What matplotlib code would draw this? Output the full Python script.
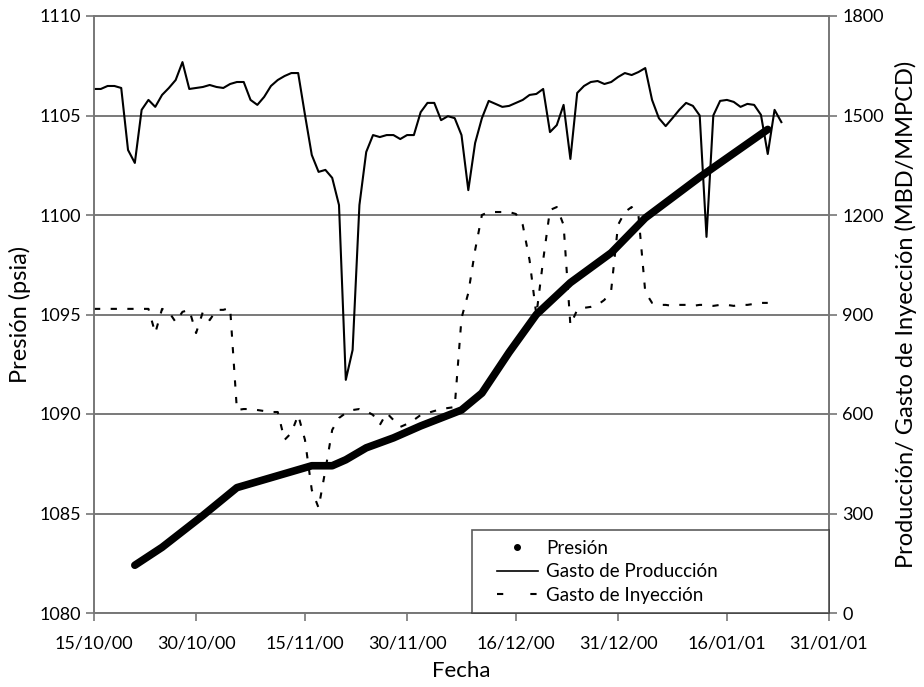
import numpy as np
import pandas as pd
import matplotlib
matplotlib.use('Agg')
import matplotlib.pyplot as plt
import matplotlib.dates as mdates
from matplotlib.lines import Line2D
from matplotlib.legend_handler import HandlerLine2D

plt.rcParams['font.family'] = ['Lato', 'DejaVu Sans']

# fecha de inicio del eje y dias transcurridos
inicio = pd.Timestamp('2000-10-15')

# Gasto de produccion (MBD/MMPCD), un valor por dia
dias_prod = np.arange(0, 102)
gasto_prod = [1580, 1580, 1589, 1589, 1583, 1396, 1357, 1517, 1547, 1526,
              1562, 1583, 1607, 1661, 1580, 1583, 1586, 1592, 1586, 1583,
              1595, 1601, 1601, 1547, 1532, 1556, 1589, 1607, 1619, 1628,
              1628, 1502, 1381, 1330, 1336, 1312, 1230, 703, 793, 1230,
              1390, 1441, 1435, 1441, 1441, 1429, 1441, 1441, 1510, 1538,
              1538, 1486, 1498, 1492, 1441, 1275, 1417, 1492, 1544, 1535,
              1526, 1529, 1538, 1547, 1562, 1565, 1580, 1450, 1471, 1532,
              1369, 1568, 1589, 1601, 1604, 1595, 1601, 1616, 1628, 1622,
              1631, 1643, 1547, 1492, 1468, 1492, 1517, 1538, 1529, 1500,
              1134, 1500, 1544, 1547, 1541, 1526, 1535, 1532, 1502, 1384,
              1517, 1480]

# Gasto de inyeccion (MBD/MMPCD)
dias_iny = np.arange(0, 100)
gasto_iny = [917, 917, 917, 917, 917, 917, 917, 917, 917, 844,
             917, 908, 877, 908, 914, 844, 908, 883, 914, 914,
             920, 612, 615, 615, 612, 609, 606, 606, 522, 543,
             597, 522, 371, 317, 431, 552, 588, 603, 612, 615,
             609, 597, 567, 603, 582, 561, 570, 582, 597, 603,
             609, 615, 618, 621, 889, 965, 1094, 1200, 1209, 1209,
             1209, 1209, 1203, 1170, 1064, 898, 1064, 1215, 1224, 1170,
             868, 914, 920, 923, 929, 944, 974, 1170, 1209, 1224,
             1200, 968, 935, 929, 929, 926, 929, 929, 926, 929,
             929, 926, 929, 929, 926, 929, 929, 932, 935, 935]

# Presion (psia)
dias_pres = [6, 10, 16, 21, 29, 32, 35, 37, 40, 44, 48, 54, 57, 61, 65, 70, 76, 81, 89, 99]
presion = [1082.4, 1083.3, 1084.9, 1086.3, 1087.1, 1087.4, 1087.4, 1087.7, 1088.3, 1088.8,
           1089.4, 1090.2, 1091.05, 1093.1, 1095.0, 1096.6, 1098.1, 1099.85, 1101.9, 1104.3]

fechas_ticks = ['2000-10-15', '2000-10-30', '2000-11-15', '2000-11-30',
                '2000-12-16', '2000-12-31', '2001-01-16', '2001-01-31']

fecha_prod = inicio + pd.to_timedelta(dias_prod, unit='D')
fecha_iny = inicio + pd.to_timedelta(dias_iny, unit='D')
fecha_pres = inicio + pd.to_timedelta(dias_pres, unit='D')


class HandlerCorrido(HandlerLine2D):
    # deja un hueco a la izquierda del simbolo, como en Excel
    def __init__(self, corrimiento, **kw):
        super().__init__(**kw)
        self.corrimiento = corrimiento

    def create_artists(self, legend, orig_handle, xdescent, ydescent,
                       width, height, fontsize, trans):
        c = self.corrimiento
        return super().create_artists(legend, orig_handle, xdescent - c, ydescent,
                                      width - c, height, fontsize, trans)


fig = plt.figure(figsize=(9.24, 6.87), dpi=100)
ax = fig.add_axes([94 / 924, 1 - 613 / 687, 735 / 924, 597 / 687])
ax2 = ax.twinx()

# presion en eje izquierdo
ax.plot(fecha_pres, presion, color='black', lw=5.5, solid_capstyle='round',
        solid_joinstyle='round', zorder=5)
ax.set_ylim(1080, 1110)
ax.set_yticks(np.arange(1080, 1111, 5))
ax.set_xlim(pd.Timestamp('2000-10-15'), pd.Timestamp('2001-01-31'))
ax.set_xticks(pd.to_datetime(fechas_ticks))
ax.xaxis.set_major_formatter(mdates.DateFormatter('%d/%m/%y'))
ax.grid(axis='y', color='#555555', lw=1.1)
ax.set_axisbelow(True)

# gastos en eje derecho
ax2.plot(fecha_prod, gasto_prod, color='black', lw=1.5)
ax2.plot(fecha_iny, gasto_iny, color='black', lw=1.5, dashes=(3, 5))
ax2.set_ylim(0, 1800)
ax2.set_yticks(np.arange(0, 1801, 300))

for a in (ax, ax2):
    for s in a.spines.values():
        s.set_color('#777777')
        s.set_linewidth(1.2)
    a.tick_params(colors='#777777', labelcolor='black', labelsize=13, length=6, width=1.2)
ax.tick_params(axis='x', pad=10)

ax.set_ylabel('Presión (psia)', fontsize=17, labelpad=6)
ax2.set_ylabel('Producción/ Gasto de Inyección (MBD/MMPCD)', fontsize=17, labelpad=8)
ax.set_xlabel('Fecha', fontsize=16, labelpad=7)

handles = [Line2D([], [], marker='o', ls='none', color='black', markersize=4),
           Line2D([], [], color='black', lw=1.2),
           Line2D([], [], color='black', lw=1.5, dashes=(3, 13))]
labels = ['Presión', 'Gasto de Producción', 'Gasto de Inyección']
corr = HandlerCorrido(11)
leg = ax2.legend(handles, labels, bbox_to_anchor=(378 / 735, 0, 357 / 735, 85 / 597),
                 loc='lower left', mode='expand', borderaxespad=0, fontsize=13.5,
                 frameon=True, fancybox=False, handlelength=3.0, handletextpad=0.45,
                 borderpad=0.5, labelspacing=0.35,
                 handler_map={h: corr for h in handles})
leg.get_frame().set_edgecolor('#333333')
leg.get_frame().set_linewidth(1.2)
leg.set_zorder(10)

fig.savefig('out.png', dpi=100)
